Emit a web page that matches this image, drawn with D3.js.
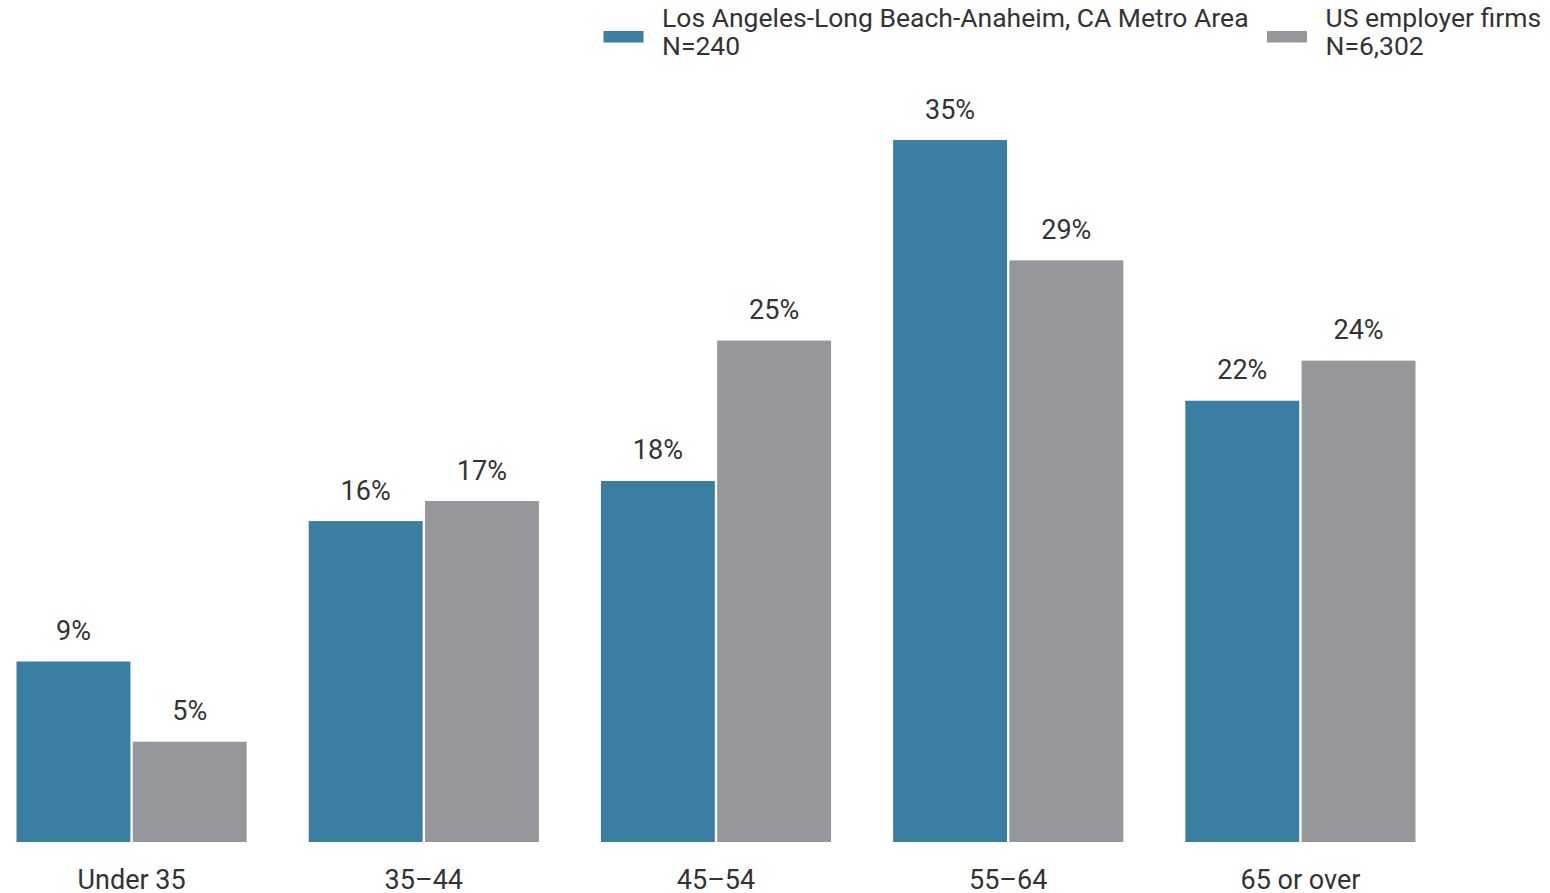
<!DOCTYPE html>
<html>
<head>
<meta charset="utf-8">
<script src="https://cdn.jsdelivr.net/npm/d3@7"></script>
<style>
  html, body { margin: 0; padding: 0; background: #fff; }
  svg { display: block; font-family: Roboto, "Noto Sans", sans-serif; }
</style>
</head>
<body>
<svg id="chart" width="1550" height="893"></svg>
<script>
const categories = ["Under 35", "35\u201344", "45\u201354", "55\u201364", "65 or over"];
const seriesNames = ["Los Angeles-Long Beach-Anaheim, CA Metro Area", "US employer firms"];
const seriesN = ["N=240", "N=6,302"];
const laValues = [9, 16, 18, 35, 22];
const usValues = [5, 17, 25, 29, 24];
const colors = ["#3a7ea1", "#96979b"];

const svg = d3.select("#chart");
const textColor = "#333333";

const x0 = d3.scaleBand().domain(categories).range([16.5, 1415.5]).paddingInner(0.2123).paddingOuter(0);
const x1 = d3.scaleBand().domain([0, 1]).range([0, x0.bandwidth()]).paddingInner(0.02);
const y = d3.scaleLinear().domain([0, 35]).range([842, 140]);

const data = categories.map((c, i) => ({ cat: c, vals: [laValues[i], usValues[i]] }));

const groups = svg.append("g").selectAll("g").data(data).join("g")
  .attr("transform", d => `translate(${x0(d.cat)},0)`);

groups.selectAll("rect").data(d => d.vals.map((v, k) => ({ v, k }))).join("rect")
  .attr("x", d => x1(d.k))
  .attr("width", x1.bandwidth())
  .attr("y", d => y(d.v))
  .attr("height", d => y(0) - y(d.v))
  .attr("fill", d => colors[d.k]);

groups.selectAll("text.val").data(d => d.vals.map((v, k) => ({ v, k }))).join("text")
  .attr("class", "val")
  .attr("x", d => x1(d.k) + x1.bandwidth() / 2)
  .attr("y", d => y(d.v) - 21.5)
  .attr("text-anchor", "middle")
  .attr("font-size", 27)
  .attr("fill", textColor)
  .text(d => d.v + "%");

// x axis labels
const xAxis = d3.axisBottom(x0).tickSize(0).tickPadding(0);
const ax = svg.append("g").attr("transform", "translate(0,842)").call(xAxis);
ax.select(".domain").remove();
ax.selectAll("text")
  .attr("font-size", 27)
  .attr("font-family", "Roboto, sans-serif")
  .attr("fill", textColor)
  .attr("dy", null)
  .attr("y", 47);

// legend
const legendX = [603.5, 1267];
const legend = svg.append("g").selectAll("g").data(seriesNames).join("g")
  .attr("transform", (d, i) => `translate(${legendX[i]},0)`);
legend.append("rect").attr("x", 0).attr("y", 31).attr("width", 40).attr("height", 11.5)
  .attr("fill", (d, i) => colors[i]);
legend.append("text").attr("x", 58.5).attr("y", 27.3).attr("font-size", 26.5).attr("fill", textColor)
  .text(d => d);
legend.append("text").attr("x", 58.5).attr("y", 55).attr("font-size", 26.5).attr("fill", textColor)
  .text((d, i) => seriesN[i]);
</script>
</body>
</html>
